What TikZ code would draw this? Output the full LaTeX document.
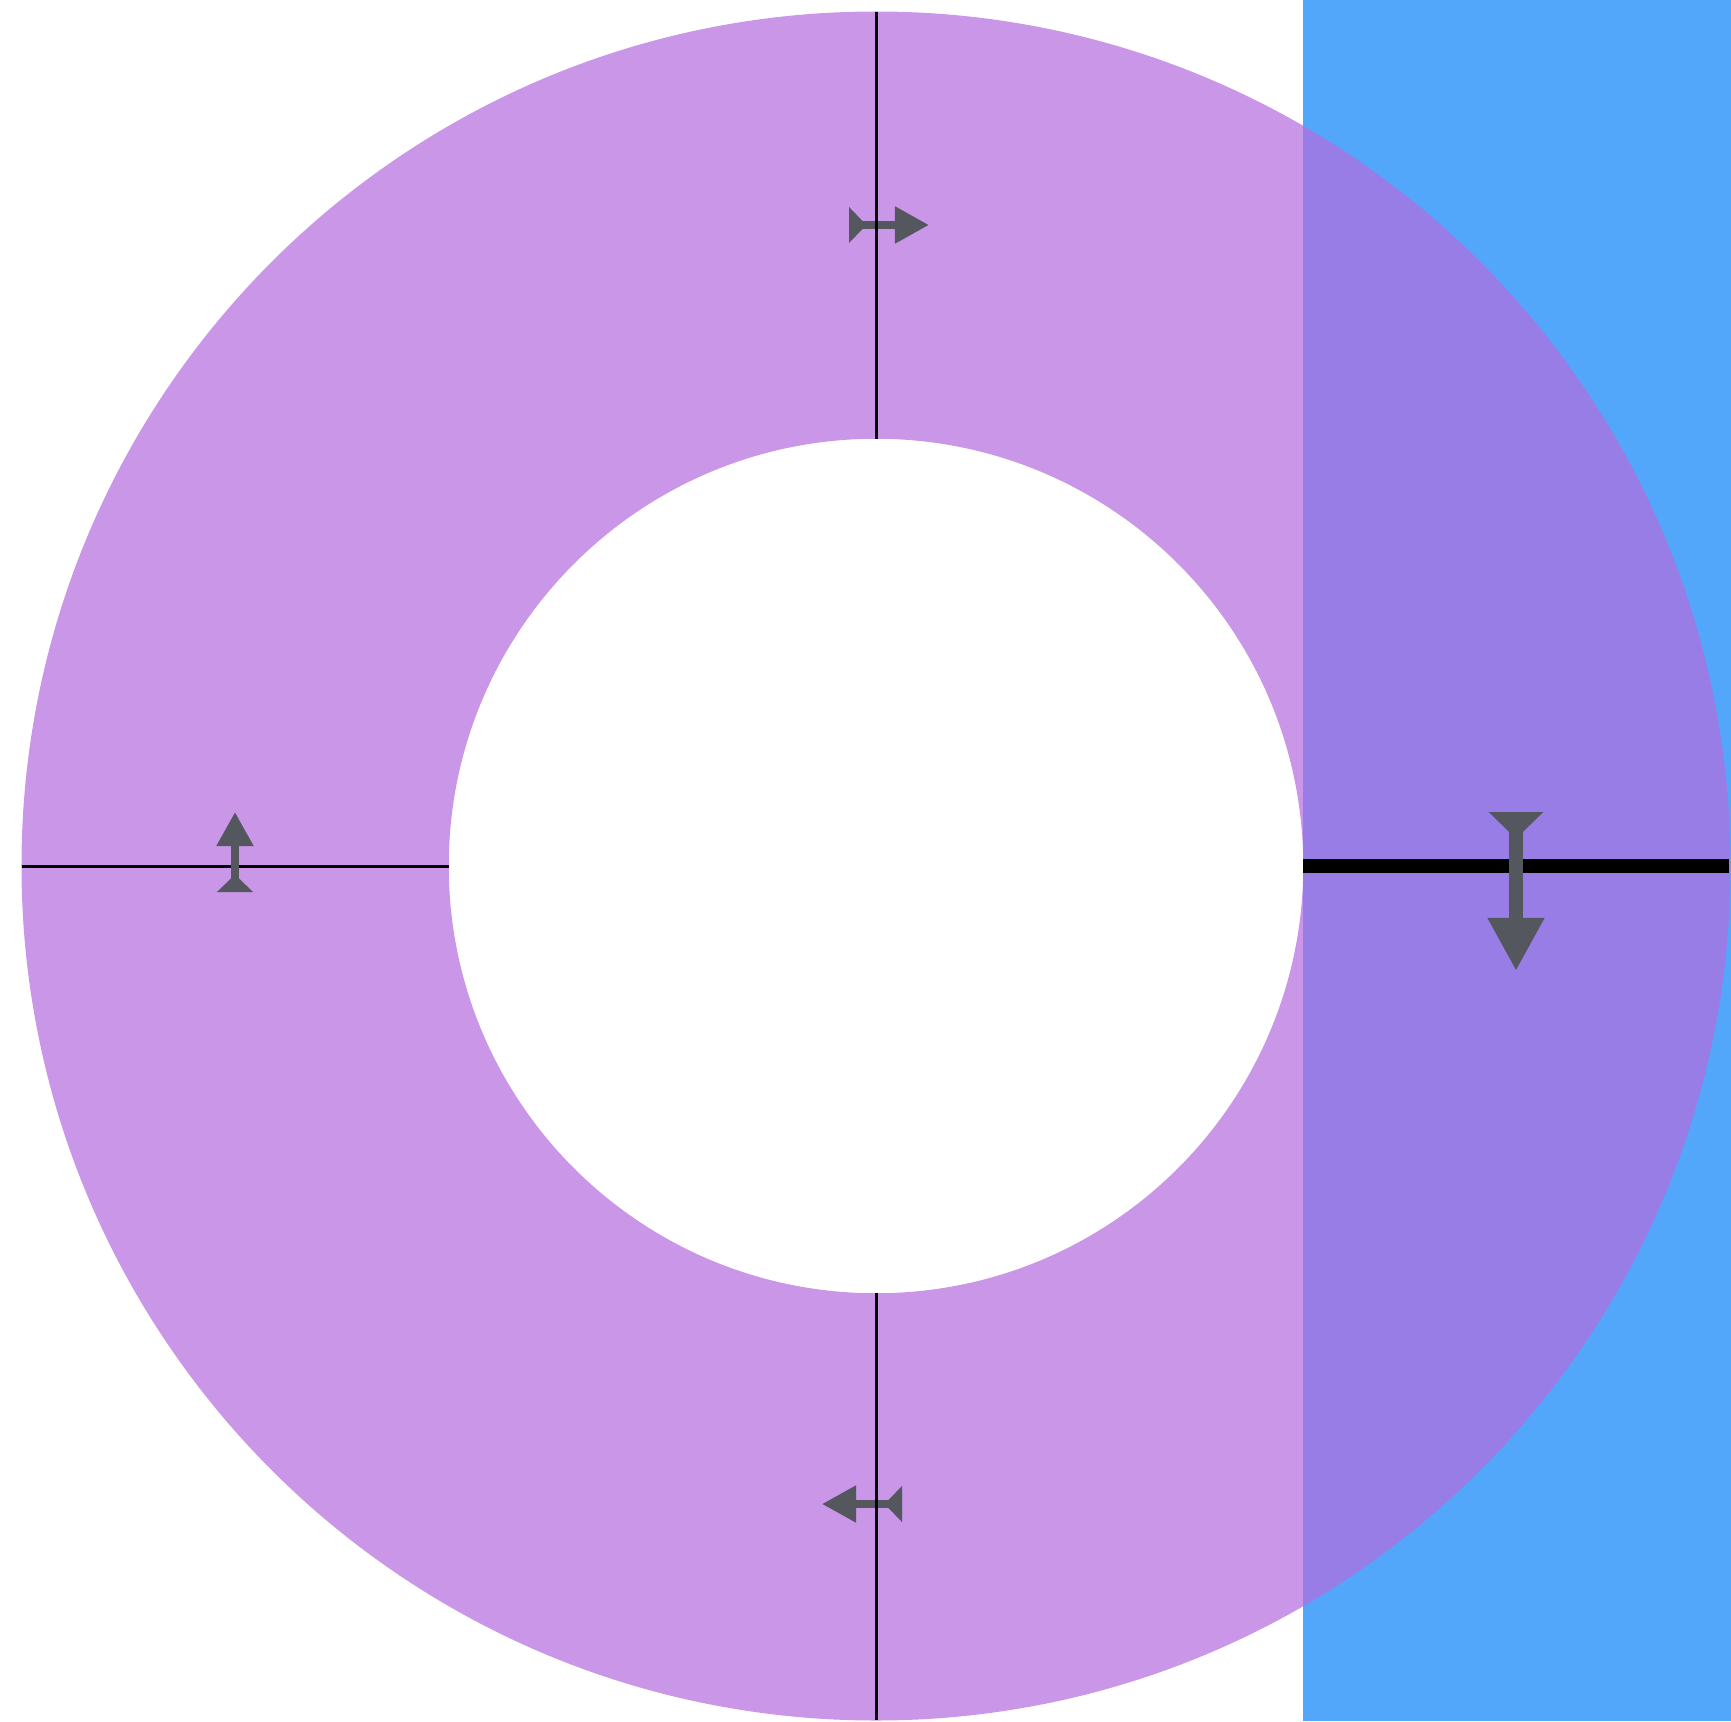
\documentclass[tikz,border=0pt]{standalone}
\usetikzlibrary{arrows.meta}

\definecolor{ringpurple}{RGB}{180,110,223}
\definecolor{bandblue}{RGB}{82,167,250}
\definecolor{flowgray}{RGB}{84,88,94}

\begin{document}
\begin{tikzpicture}[
  x=0.01cm,
  y=0.01cm,
  ring/.style={
    fill=ringpurple,
    fill opacity=0.72,
    even odd rule
  },
  band/.style={
    fill=bandblue
  },
  cut/.style={
    draw=black,
    line width=0.03cm
  },
  wide cut/.style={
    draw=black,
    line width=0.14cm
  },
  flow/.style={
    {Triangle[reversed, length=0.174cm, width=0.35cm]}-{Triangle[length=0.34cm, width=0.35cm]},
    draw=flowgray,
    line width=0.08cm
  },
  big flow/.style={
    {Triangle[reversed, length=0.267cm, width=0.53cm]}-{Triangle[length=0.53cm, width=0.53cm]},
    draw=flowgray,
    line width=0.133cm
  }
]
\useasboundingbox (-876,-855) rectangle (855,866);

% Points
\coordinate (o) at (0,0);
\coordinate (top in) at (0,427);
\coordinate (top out) at (0,854);
\coordinate (bot in) at (0,-427);
\coordinate (bot out) at (0,-854);
\coordinate (left in) at (-427,0);
\coordinate (left out) at (-854,0);
\coordinate (right in) at (427,0);
\coordinate (right out) at (853,0);

% Shapes
\fill[band] (427,-855) rectangle (855,866);
\fill[ring] (o) circle (8.54cm) (o) circle (4.27cm);

% Cuts
\draw[cut] (left out) -- (left in);
\draw[wide cut] (right in) -- (right out);

% Flows
\coordinate (t1) at (-27,641);
\coordinate (t2) at (53,641);
\coordinate (l1) at (-641,-26);
\coordinate (l2) at (-641,54);
\coordinate (b1) at (26,-638);
\coordinate (b2) at (-54,-638);
\coordinate (r1) at (640,54);
\coordinate (r2) at (640,-105);
\draw[flow] (t1) -- (t2);
\draw[flow] (l1) -- (l2);
\draw[flow] (b1) -- (b2);
\draw[big flow] (r1) -- (r2);

\draw[cut] (top in) -- (top out);
\draw[cut] (bot in) -- (bot out);

\end{tikzpicture}
\end{document}
